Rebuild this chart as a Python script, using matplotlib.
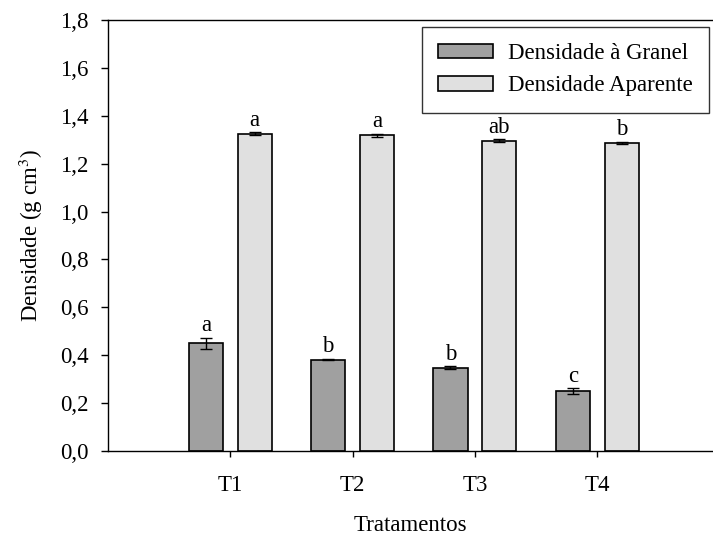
import numpy as np
import matplotlib.pyplot as plt
from matplotlib.ticker import FuncFormatter

plt.rcParams['font.family'] = ['Liberation Serif', 'DejaVu Serif']
plt.rcParams['mathtext.fontset'] = 'stix'

tratamentos = ['T1', 'T2', 'T3', 'T4']
granel = [0.451, 0.382, 0.348, 0.251]
granel_err = [0.023, 0.003, 0.005, 0.012]
granel_letras = ['a', 'b', 'b', 'c']
aparente = [1.325, 1.319, 1.295, 1.287]
aparente_err = [0.006, 0.006, 0.006, 0.005]
aparente_letras = ['a', 'a', 'ab', 'b']

fs = 16.5

fig = plt.figure(figsize=(7.13, 5.36), dpi=100)
ax = fig.add_axes([108 / 713, 85 / 536, 1 - 108 / 713, 431 / 536])

x = np.arange(1, len(tratamentos) + 1)
w = 0.28
off = 0.2
err_kw = dict(ecolor='black', elinewidth=1, capsize=4, capthick=1)
ax.bar(x - off, granel, w, yerr=granel_err, color='#a0a0a0',
       edgecolor='black', linewidth=1.2, error_kw=err_kw,
       label='Densidade à Granel')
ax.bar(x + off, aparente, w, yerr=aparente_err, color='#e0e0e0',
       edgecolor='black', linewidth=1.2, error_kw=err_kw,
       label='Densidade Aparente')

for xs, vals, errs, letras in [(x - off, granel, granel_err, granel_letras),
                               (x + off, aparente, aparente_err, aparente_letras)]:
    for xi, v, e, l in zip(xs, vals, errs, letras):
        ax.annotate(l, (xi, v + e), xytext=(0, 1), textcoords='offset points',
                    ha='center', va='bottom', fontsize=fs)

ax.set_xlim(0, 605 / 122.3)
ax.set_ylim(0, 1.8)
ax.set_yticks(np.arange(0, 1.81, 0.2))
ax.yaxis.set_major_formatter(FuncFormatter(lambda v, p: f'{v:.1f}'.replace('.', ',')))
ax.set_xticks(x)
ax.set_xticklabels(tratamentos)
ax.tick_params(axis='both', direction='out', length=5, width=1, labelsize=fs)
ax.tick_params(axis='y', pad=9)
ax.tick_params(axis='x', length=4, pad=13)
ax.spines['right'].set_visible(False)
for s in ['left', 'bottom', 'top']:
    ax.spines[s].set_linewidth(1)

ax.set_ylabel('Densidade (g cm$^3$)', fontsize=fs, labelpad=11)
ax.set_xlabel('Tratamentos', fontsize=fs, labelpad=14)

leg = ax.legend(loc='upper left', bbox_to_anchor=(422 / 713, 1 - 27 / 536),
                bbox_transform=fig.transFigure, borderaxespad=0, fontsize=16.5,
                frameon=True, fancybox=False, edgecolor='black',
                handlelength=2.4, handleheight=0.6, handletextpad=0.65,
                borderpad=0.7, labelspacing=0.5)
leg.get_frame().set_linewidth(1)

fig.savefig('out.png', dpi=100)
